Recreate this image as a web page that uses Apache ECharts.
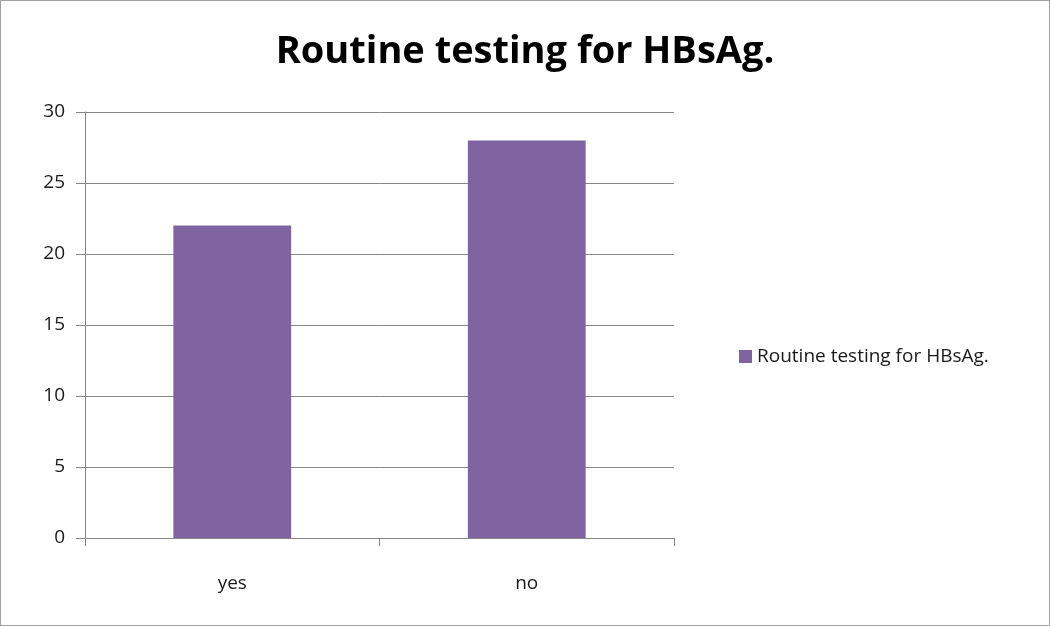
<!DOCTYPE html>
<html>
<head>
<meta charset="utf-8">
<script src="https://cdn.jsdelivr.net/npm/echarts@6/dist/echarts.min.js"></script>
<style>
html,body{margin:0;padding:0;background:#fff;}
#main{width:1048px;height:624px;border:1px solid #a0a0a0;}
</style>
</head>
<body>
<div id="main"></div>
<script>
var categories = ['yes', 'no'];
var values = [22, 28];
var seriesName = 'Routine testing for HBsAg.';

var myChart = echarts.init(document.getElementById('main'));
var font = 'Open Sans';
myChart.setOption({
	animation: false,
	title: {
		text: 'Routine testing for HBsAg.',
		left: 'center',
		top: 27,
		textStyle: {fontFamily: font, fontSize: 38, fontWeight: 'bold', color: '#000'}
	},
	legend: {
		orient: 'vertical',
		left: 733,
		top: 341,
		itemWidth: 13,
		itemHeight: 13,
		itemGap: 5,
		icon: 'rect',
		textStyle: {fontFamily: font, fontSize: 19, color: '#1a1a1a'},
		data: [seriesName]
	},
	grid: {left: 84, right: 375, top: 111, bottom: 87},
	xAxis: {
		type: 'category',
		data: categories,
		axisLine: {lineStyle: {color: '#868686'}},
		axisTick: {show: true, length: 8, lineStyle: {color: '#868686'}},
		axisLabel: {fontFamily: font, fontSize: 19, color: '#1a1a1a', margin: 36}
	},
	yAxis: {
		type: 'value',
		min: 0,
		max: 30,
		interval: 5,
		axisLine: {show: true, lineStyle: {color: '#868686'}},
		axisTick: {show: true, length: 9, lineStyle: {color: '#868686'}},
		axisLabel: {fontFamily: font, fontSize: 19, color: '#1a1a1a', margin: 20},
		splitLine: {lineStyle: {color: '#868686'}}
	},
	series: [{
		name: seriesName,
		type: 'bar',
		data: values,
		barWidth: '40%',
		itemStyle: {color: '#8064a2'}
	}]
});
</script>
</body>
</html>
